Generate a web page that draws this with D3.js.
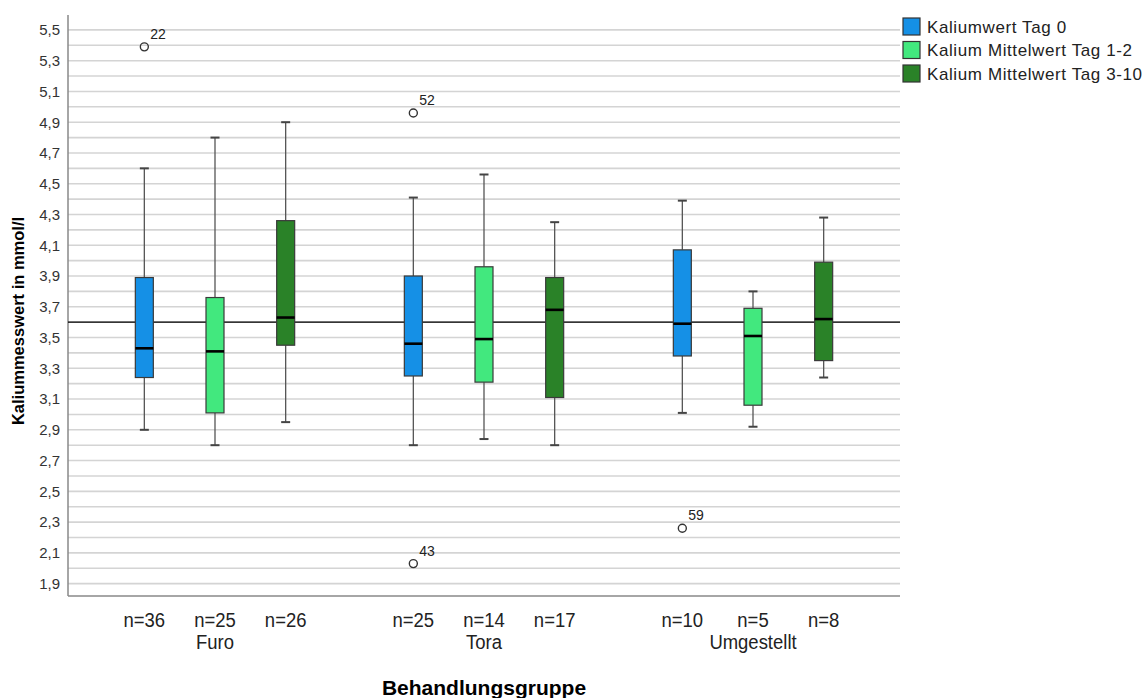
<!DOCTYPE html>
<html>
<head>
<meta charset="utf-8">
<script src="https://cdn.jsdelivr.net/npm/d3@7"></script>
<style>
  html, body { margin: 0; padding: 0; background: #ffffff; }
  svg { display: block; font-family: "Liberation Sans", Arial, sans-serif; }
</style>
</head>
<body>
<svg id="chart" width="1146" height="698"></svg>
<script>
// ---- data ----
const groups = ["Furo", "Tora", "Umgestellt"];
const seriesNames = ["Kaliumwert Tag 0", "Kalium Mittelwert Tag 1-2", "Kalium Mittelwert Tag 3-10"];
const seriesColors = ["#1590e6", "#42e87e", "#2a8228"];
// per group, per series: [whiskerLow, q1, median, q3, whiskerHigh]
const furoStats = [[2.90, 3.24, 3.43, 3.89, 4.60], [2.80, 3.01, 3.41, 3.76, 4.80], [2.95, 3.45, 3.63, 4.26, 4.90]];
const toraStats = [[2.80, 3.25, 3.46, 3.90, 4.41], [2.84, 3.21, 3.49, 3.96, 4.56], [2.80, 3.11, 3.68, 3.89, 4.25]];
const umgStats  = [[3.01, 3.38, 3.59, 4.07, 4.39], [2.92, 3.06, 3.51, 3.69, 3.80], [3.24, 3.35, 3.62, 3.99, 4.28]];
const nCounts = [[36, 25, 26], [25, 14, 17], [10, 5, 8]];
// outliers: [group index, series index, value, case label]
const outliers = [[0, 0, 5.39, "22"], [1, 0, 4.96, "52"], [1, 0, 2.03, "43"], [2, 0, 2.26, "59"]];
const refValue = 3.6;
const yTickValues = [1.9, 2.1, 2.3, 2.5, 2.7, 2.9, 3.1, 3.3, 3.5, 3.7, 3.9, 4.1, 4.3, 4.5, 4.7, 4.9, 5.1, 5.3, 5.5];
const yGridValues = d3.range(19, 56).map(v => v / 10);
const yTitle = "Kaliummesswert in mmol/l";
const xTitle = "Behandlungsgruppe";

const allStats = [furoStats, toraStats, umgStats];

// ---- layout ----
const svg = d3.select("#chart");
const plot = { left: 68, right: 900, top: 15, bottom: 596 };

const y = d3.scaleLinear().domain([1.8195, 5.597]).range([plot.bottom, plot.top]);
const xGroup = d3.scaleBand().domain(groups).range([80.5, 887.5]).padding(0);
const xSeries = d3.scaleBand().domain(d3.range(seriesNames.length)).range([-106, 106]).padding(0);
const cx = (gi, si) => xGroup(groups[gi]) + xGroup.bandwidth() / 2 + xSeries(si) + xSeries.bandwidth() / 2;
const boxW = 18;
const capW = 9;

// gridlines
svg.append("g").selectAll("line").data(yGridValues).join("line")
  .attr("x1", plot.left).attr("x2", plot.right)
  .attr("y1", d => y(d)).attr("y2", d => y(d))
  .attr("stroke", "#d4d4d4").attr("stroke-width", 1.6);

// y axis
const yAxis = d3.axisLeft(y).tickValues(yTickValues).tickSize(0).tickPadding(8)
  .tickFormat(d => d3.format(".1f")(d).replace(".", ","));
const gy = svg.append("g").attr("transform", `translate(${plot.left},0)`).call(yAxis);
gy.select(".domain").remove();
gy.selectAll("text").attr("font-size", 15).attr("fill", "#333").attr("font-family", "'Liberation Sans', Arial, sans-serif");

// axis lines
svg.append("line").attr("x1", plot.left).attr("x2", plot.left).attr("y1", plot.top).attr("y2", plot.bottom)
  .attr("stroke", "#888").attr("stroke-width", 1.5);
svg.append("line").attr("x1", plot.left).attr("x2", plot.right).attr("y1", plot.bottom).attr("y2", plot.bottom)
  .attr("stroke", "#888").attr("stroke-width", 1.5);

// reference line
svg.append("line").attr("x1", plot.left).attr("x2", plot.right)
  .attr("y1", y(refValue)).attr("y2", y(refValue))
  .attr("stroke", "#000").attr("stroke-width", 1.3);

// boxes
const boxData = [];
allStats.forEach((g, gi) => g.forEach((s, si) => boxData.push({ gi, si, s })));
const bg = svg.append("g");
boxData.forEach(d => {
  const x0 = cx(d.gi, d.si);
  const [lo, q1, med, q3, hi] = d.s;
  const g = bg.append("g");
  g.append("line").attr("x1", x0).attr("x2", x0).attr("y1", y(hi)).attr("y2", y(q3)).attr("stroke", "#555").attr("stroke-width", 1.3);
  g.append("line").attr("x1", x0).attr("x2", x0).attr("y1", y(q1)).attr("y2", y(lo)).attr("stroke", "#555").attr("stroke-width", 1.3);
  g.append("line").attr("x1", x0 - capW / 2).attr("x2", x0 + capW / 2).attr("y1", y(hi)).attr("y2", y(hi)).attr("stroke", "#444").attr("stroke-width", 2);
  g.append("line").attr("x1", x0 - capW / 2).attr("x2", x0 + capW / 2).attr("y1", y(lo)).attr("y2", y(lo)).attr("stroke", "#444").attr("stroke-width", 2);
  g.append("rect").attr("x", x0 - boxW / 2).attr("width", boxW)
    .attr("y", y(q3)).attr("height", y(q1) - y(q3))
    .attr("fill", seriesColors[d.si]).attr("stroke", "#3a3a3a").attr("stroke-width", 1.2);
  g.append("line").attr("x1", x0 - boxW / 2).attr("x2", x0 + boxW / 2).attr("y1", y(med)).attr("y2", y(med))
    .attr("stroke", "#000").attr("stroke-width", 2.6);
});

// outliers
outliers.forEach(([gi, si, v, lab]) => {
  const x0 = cx(gi, si);
  svg.append("circle").attr("cx", x0).attr("cy", y(v)).attr("r", 4)
    .attr("fill", "none").attr("stroke", "#333").attr("stroke-width", 1.4);
  svg.append("text").attr("x", x0 + 6).attr("y", y(v) - 8).text(lab)
    .attr("font-size", 14).attr("fill", "#222");
});

// x labels (condensed look via horizontal scaling)
const condensed = 0.88;
function narrowText(x, yy, txt, size) {
  svg.append("text").attr("transform", `translate(${x},${yy}) scale(${condensed},1)`)
    .attr("text-anchor", "middle").attr("font-size", size).attr("fill", "#222").text(txt);
}
boxData.forEach(d => narrowText(cx(d.gi, d.si), 627, "n=" + nCounts[d.gi][d.si], 21));
groups.forEach((g, gi) => narrowText(cx(gi, 1), 649, g, 21));

svg.append("text").attr("x", (plot.left + plot.right) / 2).attr("y", 695).attr("text-anchor", "middle")
  .attr("font-size", 21).attr("font-weight", "bold").attr("fill", "#000").text(xTitle);
svg.append("text").attr("transform", `translate(24, ${321}) rotate(-90)`).attr("text-anchor", "middle")
  .attr("font-size", 16.5).attr("font-weight", "bold").attr("fill", "#000").text(yTitle);

// legend
const lg = svg.append("g").attr("transform", "translate(903,18)");
seriesNames.forEach((n, i) => {
  lg.append("rect").attr("x", 0).attr("y", i * 23.5).attr("width", 17).attr("height", 17)
    .attr("fill", seriesColors[i]).attr("stroke", "#333").attr("stroke-width", 1.2);
  lg.append("text").attr("x", 24).attr("y", i * 23.5 + 14.5).attr("font-size", 17)
    .attr("letter-spacing", 0.6).attr("fill", "#222").text(n);
});
</script>
</body>
</html>
